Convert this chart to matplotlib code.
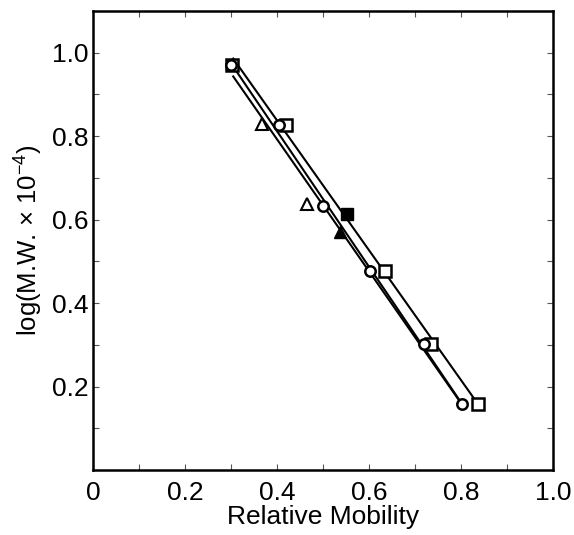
import numpy as np
import matplotlib
matplotlib.use("Agg")
import matplotlib.pyplot as plt

plt.rcParams['font.family'] = ['Liberation Sans', 'DejaVu Sans']
plt.rcParams['mathtext.fontset'] = 'custom'
plt.rcParams['mathtext.rm'] = 'Liberation Sans'

# open squares
sq_x = [0.302, 0.420, 0.635, 0.735, 0.837]
sq_y = [0.971, 0.826, 0.477, 0.303, 0.158]
# open circles
ci_x = [0.300, 0.404, 0.500, 0.602, 0.720, 0.802]
ci_y = [0.971, 0.826, 0.632, 0.477, 0.303, 0.158]
# open triangles
tr_x = [0.367, 0.465]
tr_y = [0.828, 0.638]
# filled square and filled triangle
fsq_x = [0.552]
fsq_y = [0.613]
ftr_x = [0.537]
ftr_y = [0.570]

xticks = [0, 0.2, 0.4, 0.6, 0.8, 1.0]
xticklabels = ['0', '0.2', '0.4', '0.6', '0.8', '1.0']
yticks = [0.2, 0.4, 0.6, 0.8, 1.0]
yticklabels = ['0.2', '0.4', '0.6', '0.8', '1.0']

fig = plt.figure(figsize=(5.74, 5.35), dpi=100)
ax = fig.add_axes([0.162, 0.1215, 0.801, 0.858])


def fit_line(x, y, x0, x1):
    p = np.polyfit(x, y, 1)
    xs = np.array([x0, x1])
    ax.plot(xs, np.polyval(p, xs), color='black', lw=1.5, zorder=2)


# regression lines
fit_line(sq_x + fsq_x, sq_y + fsq_y, 0.305, 0.835)
fit_line(ci_x, ci_y, 0.305, 0.80)
fit_line(ci_x + tr_x + ftr_x, ci_y + tr_y + ftr_y, 0.305, 0.80)

ms = 9
ax.plot(sq_x, sq_y, 's', ms=ms, mfc='white', mec='black', mew=1.8, zorder=3)
ax.plot(ci_x, ci_y, 'o', ms=ms - 1.5, mfc='white', mec='black', mew=1.8, zorder=4)
ax.plot(tr_x, tr_y, '^', ms=ms - 1, mfc='white', mec='black', mew=1.5, zorder=3)
ax.plot(fsq_x, fsq_y, 's', ms=ms, mfc='black', mec='black', zorder=3)
ax.plot(ftr_x, ftr_y, '^', ms=ms, mfc='black', mec='black', zorder=3)

ax.set_xlim(0, 1.0)
ax.set_ylim(0, 1.1)
ax.set_xticks(xticks)
ax.set_xticklabels(xticklabels)
ax.set_yticks(yticks)
ax.set_yticklabels(yticklabels)
ax.set_xticks(np.arange(0.1, 1.0, 0.2), minor=True)
ax.set_yticks([0.1, 0.3, 0.5, 0.7, 0.9], minor=True)
ax.tick_params(which='both', direction='in', top=True, right=True,
               length=4, width=0.8, color='#555555', labelsize=19)
ax.tick_params(axis='x', pad=8)
ax.tick_params(axis='y', pad=3)

for s in ax.spines.values():
    s.set_linewidth(1.8)

ax.set_xlabel('Relative Mobility', fontsize=19, labelpad=0)
ax.set_ylabel('log(M.W. \u00d7 10$^{-4}$)', fontsize=18.5, labelpad=6)

fig.savefig('out.png', dpi=100)
